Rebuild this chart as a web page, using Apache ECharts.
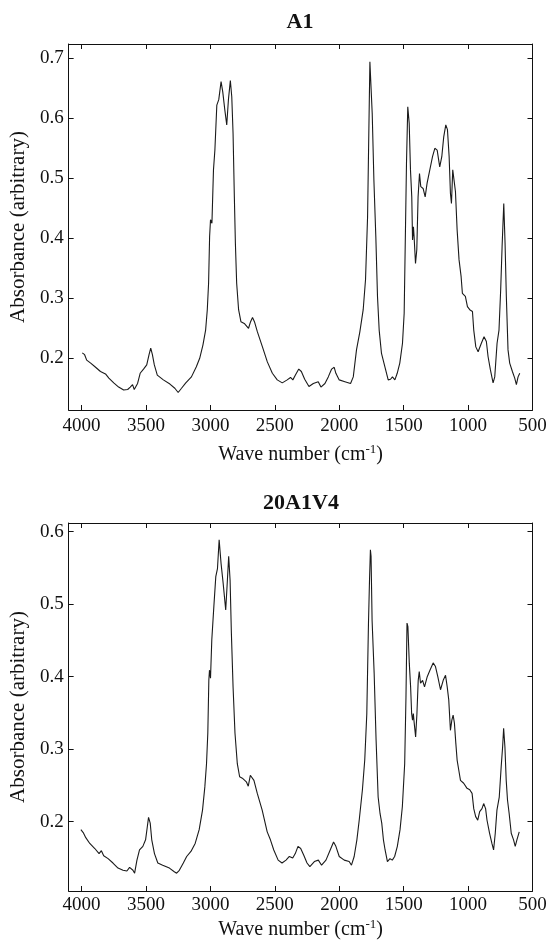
<!DOCTYPE html>
<html><head><meta charset="utf-8">
<script src="https://cdn.jsdelivr.net/npm/echarts@6/dist/echarts.min.js"></script>
<style>html,body{margin:0;padding:0;background:#fff}#c{width:551px;height:941px}</style>
</head><body><div id="c"></div>
<script>
// Tick values
const xTicks = [4000, 3500, 3000, 2500, 2000, 1500, 1000, 500];
const yTicksA1 = [0.2, 0.3, 0.4, 0.5, 0.6, 0.7];
const yTicks20 = [0.2, 0.3, 0.4, 0.5, 0.6];
const titles = ['A1', '20A1V4'];

// Spectrum A1
const a1Wn = [3994,3976,3960,3929,3891,3853,3814,3788,3750,3712,3673,3642,3622,3604,3591,3578,3565,3545,3519,3494,3476,3463,3450,3435,3412,3365,3314,3276,3250,3224,3191,3147,3109,3083,3058,3037,3024,3014,3006,2999,2988,2976,2965,2950,2935,2917,2904,2888,2873,2860,2845,2834,2824,2814,2806,2796,2781,2763,2737,2724,2704,2688,2673,2658,2635,2596,2558,2519,2481,2442,2404,2378,2360,2340,2314,2294,2268,2235,2201,2163,2142,2111,2085,2059,2039,2026,2000,1956,1912,1891,1866,1840,1814,1796,1780,1770,1762,1754,1744,1731,1716,1703,1690,1672,1646,1620,1602,1587,1568,1550,1530,1509,1496,1486,1478,1468,1457,1447,1437,1431,1424,1419,1408,1398,1388,1377,1367,1349,1333,1318,1297,1276,1258,1240,1220,1204,1189,1173,1160,1147,1137,1129,1119,1109,1098,1085,1070,1054,1044,1034,1021,1005,987,966,956,940,922,897,876,858,845,827,806,793,775,760,747,736,723,713,703,690,677,656,638,625,612,599];
const a1Abs = [0.209,0.206,0.197,0.192,0.185,0.178,0.174,0.167,0.159,0.152,0.147,0.148,0.152,0.156,0.148,0.146,0.158,0.175,0.182,0.189,0.206,0.217,0.206,0.189,0.172,0.164,0.157,0.150,0.143,0.150,0.159,0.169,0.186,0.200,0.222,0.247,0.281,0.325,0.403,0.431,0.425,0.514,0.547,0.622,0.631,0.661,0.644,0.614,0.589,0.631,0.663,0.636,0.575,0.469,0.392,0.325,0.281,0.261,0.258,0.261,0.250,0.261,0.268,0.261,0.244,0.219,0.194,0.175,0.164,0.159,0.164,0.168,0.164,0.172,0.182,0.178,0.165,0.153,0.158,0.161,0.152,0.158,0.169,0.182,0.185,0.175,0.164,0.161,0.158,0.169,0.214,0.244,0.281,0.331,0.436,0.581,0.694,0.697,0.608,0.497,0.403,0.303,0.247,0.208,0.186,0.164,0.165,0.169,0.164,0.175,0.192,0.225,0.275,0.414,0.525,0.619,0.592,0.514,0.469,0.397,0.419,0.403,0.358,0.381,0.469,0.508,0.486,0.483,0.469,0.492,0.514,0.536,0.550,0.547,0.519,0.536,0.569,0.589,0.581,0.536,0.475,0.458,0.514,0.497,0.478,0.414,0.364,0.336,0.308,0.311,0.303,0.286,0.281,0.278,0.247,0.219,0.211,0.225,0.236,0.228,0.203,0.181,0.159,0.169,0.225,0.247,0.314,0.386,0.458,0.392,0.303,0.214,0.192,0.178,0.167,0.156,0.169,0.175];

// Spectrum 20A1V4
const v4Wn = [4005,3987,3967,3936,3897,3864,3846,3828,3794,3756,3717,3678,3648,3627,3614,3601,3588,3570,3550,3524,3503,3491,3480,3467,3455,3434,3408,3370,3318,3280,3262,3241,3210,3184,3151,3118,3087,3061,3043,3030,3020,3012,3007,2999,2989,2973,2958,2945,2932,2925,2917,2901,2881,2868,2858,2847,2837,2824,2809,2791,2773,2752,2737,2721,2706,2690,2675,2662,2636,2598,2559,2534,2508,2474,2444,2413,2387,2361,2341,2320,2299,2276,2250,2228,2193,2162,2137,2103,2070,2044,2026,2000,1961,1923,1905,1884,1863,1845,1820,1802,1786,1773,1765,1758,1753,1745,1729,1714,1698,1683,1670,1657,1644,1626,1606,1588,1570,1549,1528,1510,1492,1482,1474,1467,1456,1446,1438,1431,1425,1418,1407,1397,1387,1379,1369,1353,1338,1317,1296,1271,1253,1235,1214,1193,1175,1162,1150,1137,1126,1116,1106,1095,1085,1072,1059,1034,1008,987,969,956,941,925,910,892,879,864,853,833,815,802,789,776,758,743,732,724,714,704,694,681,665,647,634,621,603];
const v4Abs = [0.189,0.185,0.178,0.170,0.163,0.156,0.160,0.153,0.149,0.143,0.136,0.133,0.132,0.137,0.139,0.133,0.129,0.147,0.161,0.166,0.175,0.191,0.206,0.198,0.175,0.156,0.143,0.140,0.136,0.131,0.129,0.133,0.143,0.152,0.159,0.170,0.189,0.216,0.248,0.280,0.322,0.395,0.409,0.398,0.451,0.497,0.538,0.549,0.589,0.591,0.556,0.529,0.492,0.533,0.566,0.533,0.460,0.386,0.322,0.280,0.262,0.260,0.262,0.255,0.249,0.264,0.265,0.257,0.239,0.216,0.186,0.175,0.161,0.147,0.143,0.147,0.152,0.150,0.156,0.166,0.163,0.154,0.143,0.138,0.145,0.147,0.140,0.147,0.161,0.172,0.166,0.152,0.147,0.145,0.140,0.152,0.175,0.202,0.244,0.285,0.349,0.474,0.533,0.575,0.566,0.478,0.405,0.313,0.234,0.211,0.198,0.175,0.161,0.145,0.149,0.147,0.152,0.166,0.189,0.221,0.280,0.372,0.474,0.469,0.418,0.386,0.349,0.340,0.349,0.336,0.317,0.349,0.395,0.407,0.391,0.395,0.386,0.400,0.409,0.419,0.414,0.400,0.382,0.395,0.402,0.386,0.368,0.326,0.340,0.347,0.336,0.308,0.285,0.271,0.257,0.253,0.246,0.244,0.239,0.218,0.207,0.202,0.214,0.218,0.225,0.218,0.202,0.184,0.170,0.161,0.184,0.216,0.234,0.276,0.303,0.329,0.303,0.257,0.230,0.211,0.184,0.175,0.166,0.175,0.186];

const FONT = '"Liberation Serif", "Times New Roman", serif';
const INK = '#111';

function pairs(xs, ys) { return xs.map((x, i) => [x, ys[i]]); }

const panels = [
  { top: 44, height: 366, yMin: 0.1138, yMax: 0.7238, yTicks: yTicksA1, labelMargin: 7, nameGap: 33 },
  { top: 523, height: 368, yMin: 0.1044, yMax: 0.612, yTicks: yTicks20, labelMargin: 5, nameGap: 27 }
];

const grids = [], xAxes = [], yAxes = [];
panels.forEach((p, g) => {
  grids.push({ left: 65, right: 18.5, top: p.top, height: p.height, containLabel: false });
  const lineStyle = { color: INK, width: 1 };
  const xBase = { type: 'value', gridIndex: g, min: 500, max: 4100, inverse: true,
    splitLine: { show: false },
    axisLine: { show: true, onZero: false, lineStyle } };
  xAxes.push(Object.assign({}, xBase, {
    position: 'bottom',
    axisTick: { show: true, inside: true, length: 5, customValues: xTicks, lineStyle },
    axisLabel: { show: true, customValues: xTicks, margin: p.labelMargin, fontFamily: FONT, fontSize: 19, color: INK,
      formatter: v => String(Math.round(v)) },
    name: '{n|Wave number (cm}{s|-1}{n|)}',
    nameLocation: 'middle', nameGap: p.nameGap,
    nameTextStyle: { rich: {
      n: { fontFamily: FONT, fontSize: 20, color: INK },
      s: { fontFamily: FONT, fontSize: 13, color: INK, padding: [0, 0, 11, 0] }
    } }
  }));
  xAxes.push(Object.assign({}, xBase, {
    position: 'top',
    axisTick: { show: true, inside: true, length: 5, customValues: xTicks, lineStyle },
    axisLabel: { show: false }
  }));
  const yBase = { type: 'value', gridIndex: g, min: p.yMin, max: p.yMax,
    splitLine: { show: false },
    axisLine: { show: true, onZero: false, lineStyle } };
  yAxes.push(Object.assign({}, yBase, {
    position: 'left',
    axisTick: { show: true, inside: true, length: 5, customValues: p.yTicks, lineStyle },
    axisLabel: { show: true, customValues: p.yTicks, margin: 5, fontFamily: FONT, fontSize: 19, color: INK,
      formatter: v => v.toFixed(1) },
    name: 'Absorbance (arbitrary)', nameLocation: 'middle', nameGap: 32,
    nameTextStyle: { fontFamily: FONT, fontSize: 21, color: INK }
  }));
  yAxes.push(Object.assign({}, yBase, {
    position: 'right',
    axisTick: { show: true, inside: true, length: 5, customValues: p.yTicks, lineStyle },
    axisLabel: { show: false }
  }));
});

const chart = echarts.init(document.getElementById('c'), null, { renderer: 'canvas' });
chart.setOption({
  animation: false,
  backgroundColor: '#fff',
  graphic: [
    { type: 'text', x: 300, y: 22, style: { text: titles[0], align: 'center', verticalAlign: 'middle', font: 'bold 22px ' + FONT, fill: INK } },
    { type: 'text', x: 301, y: 503, style: { text: titles[1], align: 'center', verticalAlign: 'middle', font: 'bold 22px ' + FONT, fill: INK } }
  ],
  grid: grids,
  xAxis: xAxes,
  yAxis: yAxes,
  series: [
    { type: 'line', xAxisIndex: 0, yAxisIndex: 0, data: pairs(a1Wn, a1Abs), showSymbol: false, symbol: 'none',
      lineStyle: { color: '#1a1a1a', width: 1.1 } },
    { type: 'line', xAxisIndex: 2, yAxisIndex: 2, data: pairs(v4Wn, v4Abs), showSymbol: false, symbol: 'none',
      lineStyle: { color: '#1a1a1a', width: 1.1 } }
  ]
});
</script></body></html>
